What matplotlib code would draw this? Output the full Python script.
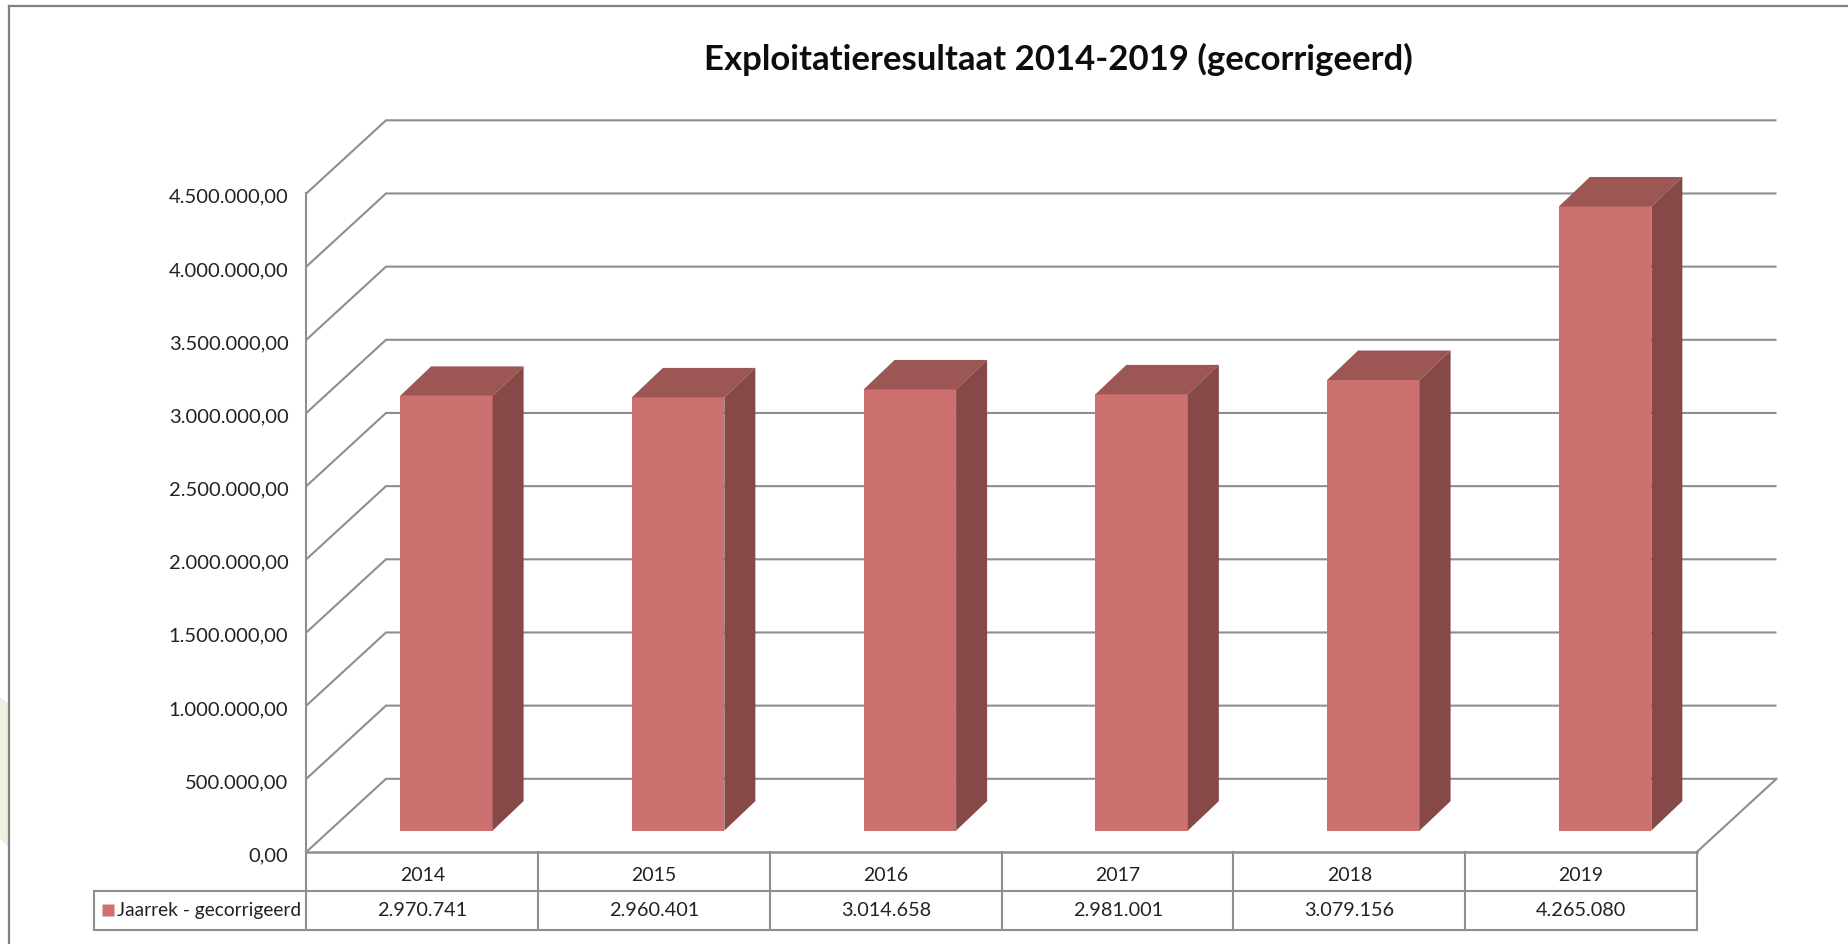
#!/usr/bin/env python3
"""
Oblique 3D column chart of the corrected operating result, with data table.
"""

from __future__ import annotations

import matplotlib

matplotlib.use("Agg")
import matplotlib.pyplot as plt
from matplotlib.patches import Polygon
from matplotlib.transforms import ScaledTranslation

YEARS = ["2014", "2015", "2016", "2017", "2018", "2019"]
VALUES = [2970741, 2960401, 3014658, 2981001, 3079156, 4265080]
VALUE_LABELS = ["2.970.741", "2.960.401", "3.014.658", "2.981.001", "3.079.156", "4.265.080"]
TICKS = [0, 500000, 1000000, 1500000, 2000000, 2500000, 3000000, 3500000, 4000000, 4500000]
TICK_LABELS = [
    "0,00", "500.000,00", "1.000.000,00", "1.500.000,00", "2.000.000,00",
    "2.500.000,00", "3.000.000,00", "3.500.000,00", "4.000.000,00", "4.500.000,00",
]
SERIES = "Jaarrek - gecorrigeerd"
TITLE = "Exploitatieresultaat 2014-2019 (gecorrigeerd)"

W, H = 1849, 944
LINE = "#8e8e8e"
FRAME = "#808080"
FRONT = "#cc7170"
TOP = "#9c5654"
SIDE = "#864947"
TEXT = "#222222"

plt.rcParams["font.family"] = ["Lato", "DejaVu Sans"]

fig = plt.figure(figsize=(W / 100, H / 100), dpi=100)

# axes spans the front plane of the chart: category 0..6, value 0..4.5M
x0, x1 = 306.5, 1697
ytop, ybot = 193.3, 851.8
PX = 6 / (x1 - x0)
PY = 4500000 / (ybot - ytop)
ax = fig.add_axes([x0 / W, 1 - ybot / H, (x1 - x0) / W, (ybot - ytop) / H])
ax.set_xlim(0, 6)
ax.set_ylim(0, 4500000)
for s in ax.spines.values():
    s.set_visible(False)
ax.patch.set_visible(False)

# oblique depth of the walls and of the columns
DX, DY = 79.5 * PX, 73 * PY
BAR_W = 92.5 * PX
BAR_DX, BAR_DY = 31 * PX, 29.5 * PY
BAR_OFF_X, BAR_OFF_Y = 93.6 * PX, 21.2 * PY

lw = 1.5
for t in TICKS:
    ax.plot([0, DX, 6 + DX], [t, t + DY, t + DY], color=LINE, lw=lw, clip_on=False, zorder=1,
            solid_joinstyle="miter", solid_capstyle="butt")
ax.plot([0, 0], [0, 4500000], color=LINE, lw=lw, clip_on=False, zorder=1)
ax.plot([6 + DX, 6], [DY, 0], color=LINE, lw=lw, clip_on=False, zorder=1)

for i, v in enumerate(VALUES):
    l = i + BAR_OFF_X
    r = l + BAR_W
    b = BAR_OFF_Y
    t = b + v
    ax.add_patch(Polygon([(l, b), (r, b), (r, t), (l, t)], fc=FRONT, ec="none", clip_on=False, zorder=3))
    ax.add_patch(Polygon([(l, t), (r, t), (r + BAR_DX, t + BAR_DY), (l + BAR_DX, t + BAR_DY)], fc=TOP, ec="none", clip_on=False, zorder=3))
    ax.add_patch(Polygon([(r, b), (r + BAR_DX, b + BAR_DY), (r + BAR_DX, t + BAR_DY), (r, t)], fc=SIDE, ec="none", clip_on=False, zorder=3))

ax.set_yticks(TICKS, TICK_LABELS)
ax.set_xticks([i + 0.5 for i in range(6)], YEARS)
ax.tick_params(axis="y", length=0, pad=13, labelsize=14.5, labelcolor=TEXT)
ax.tick_params(axis="x", length=0, pad=11, labelsize=14, labelcolor=TEXT)
shift = ScaledTranslation(0, -2.5 / 100, fig.dpi_scale_trans)
for lab in ax.get_yticklabels():
    lab.set_transform(lab.get_transform() + shift)

# data table below the axis
trans = ax.get_xaxis_transform()
row0 = 0
row1 = -39 / (ybot - ytop)
row2 = -78 / (ybot - ytop)
mid = (row1 + row2) / 2
leg_x = -(x0 - 94) * PX
ax.plot([0, 6], [row0, row0], color=LINE, lw=1.8, transform=trans, clip_on=False)
for i in range(7):
    ax.plot([i, i], [row0, row2], color=LINE, lw=lw, transform=trans, clip_on=False)
ax.plot([leg_x, 6], [row1, row1], color=LINE, lw=lw, transform=trans, clip_on=False)
ax.plot([leg_x, 6], [row2, row2], color=LINE, lw=lw, transform=trans, clip_on=False)
ax.plot([leg_x, leg_x], [row1, row2], color=LINE, lw=lw, transform=trans, clip_on=False)
for i, lab in enumerate(VALUE_LABELS):
    ax.text(i + 0.5, mid, lab, transform=trans, ha="center", va="center", fontsize=14.3, color=TEXT)
ax.text(-5 * PX, mid, SERIES, transform=trans, ha="right", va="center", fontsize=13.8, color=TEXT)
ax.plot([-(x0 - 107.5) * PX], [mid], marker="s", ms=8.5, color=FRONT, mec="none", transform=trans, clip_on=False)

fig.text(1058 / W, 1 - 59 / H, TITLE, ha="center", va="center", fontsize=25, fontweight="bold", color="#0d0d0d")

# pale shape showing at the left edge and the outer frame
fig.add_artist(Polygon([(0, 1 - 697 / H), (8 / W, 1 - 703 / H), (8 / W, 1 - 847 / H), (0, 1 - 838 / H)],
                       closed=True, fc="#eef1e0", ec="none", transform=fig.transFigure))
fig.add_artist(plt.Line2D([8.7 / W, 8.7 / W], [0, 1 - 6 / H], color=FRAME, lw=1.6))
fig.add_artist(plt.Line2D([8.7 / W, 1], [1 - 6 / H, 1 - 6 / H], color=FRAME, lw=1.6))

fig.savefig("out.png", dpi=100)
